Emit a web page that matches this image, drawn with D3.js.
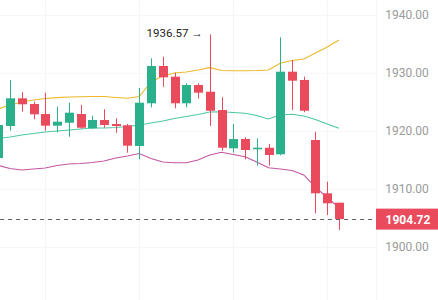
<!DOCTYPE html>
<html>
<head>
<meta charset="utf-8">
<script src="https://cdn.jsdelivr.net/npm/d3@7"></script>
<style>
  html, body { margin: 0; padding: 0; background: #fff; }
  svg { display: block; font-family: Roboto, "Noto Sans", sans-serif; }
</style>
</head>
<body>
<script>
// candle data (index = bar number)
const opens  = [1915.26, 1920.78, 1925.55, 1924.57, 1922.84, 1920.83, 1921.34, 1922.84, 1920.38, 1921.81,
                1921.12, 1920.90, 1917.33, 1924.69, 1931.12, 1929.28, 1924.69, 1927.84, 1926.69, 1923.53,
                1916.93, 1918.53, 1916.76, 1917.03, 1915.90, 1930.14, 1928.71, 1918.36, 1909.17, 1907.55];
const highs  = [1921.60, 1928.70, 1926.59, 1924.97, 1926.52, 1924.10, 1924.79, 1924.40, 1922.55, 1923.66,
                1922.10, 1921.12, 1927.33, 1932.45, 1932.72, 1929.97, 1928.14, 1928.14, 1936.57, 1925.72,
                1921.12, 1918.83, 1918.66, 1917.67, 1936.07, 1932.16, 1929.28, 1919.79, 1911.17, 1907.55];
const lows   = [1914.80, 1919.97, 1923.24, 1921.93, 1919.97, 1919.69, 1918.93, 1920.30, 1920.30, 1920.48,
                1919.60, 1916.17, 1915.03, 1924.00, 1927.55, 1923.83, 1924.00, 1925.55, 1920.78, 1916.52,
                1916.17, 1915.03, 1913.93, 1913.93, 1915.70, 1923.53, 1923.14, 1905.72, 1905.43, 1902.84];
const closes = [1920.95, 1925.55, 1924.52, 1922.79, 1920.83, 1921.52, 1923.07, 1920.48, 1921.81, 1920.95,
                1920.78, 1917.38, 1924.79, 1931.12, 1929.17, 1924.69, 1927.84, 1926.52, 1923.41, 1917.03,
                1918.53, 1916.64, 1917.03, 1915.78, 1930.14, 1928.59, 1923.41, 1909.17, 1907.45, 1904.72];

// bollinger bands
const upperBand = [1923.71, 1924.40, 1924.91, 1925.26, 1925.52, 1925.66, 1925.78, 1925.83, 1925.86, 1925.86,
                   1925.69, 1925.55, 1925.86, 1928.36, 1929.40, 1929.91, 1930.09, 1930.43, 1930.83, 1930.34,
                   1930.31, 1930.31, 1930.34, 1930.43, 1931.59, 1932.07, 1932.33, 1933.36, 1934.40, 1935.60];
const midBand   = [1918.62, 1918.88, 1919.22, 1919.48, 1919.74, 1919.91, 1920.09, 1920.26, 1920.43, 1920.43,
                   1920.52, 1920.69, 1920.95, 1921.29, 1921.64, 1922.07, 1922.41, 1922.76, 1923.19, 1923.24,
                   1923.10, 1922.97, 1922.59, 1921.98, 1922.67, 1922.79, 1922.50, 1921.90, 1921.12, 1920.38];
const lowerBand = [1913.97, 1913.45, 1913.19, 1913.36, 1913.53, 1913.97, 1914.22, 1914.31, 1914.48, 1914.74,
                   1915.26, 1915.60, 1916.03, 1915.17, 1914.57, 1914.45, 1914.45, 1914.91, 1915.78, 1916.24,
                   1915.86, 1915.48, 1914.57, 1913.59, 1913.36, 1913.10, 1912.33, 1910.22, 1908.41, 1906.72];

const yTicks = [1900, 1910, 1920, 1930, 1940];
const gridBars = [4, 12, 20, 28];
const lastPrice = 1904.72;
const maxNote = "1936.57 →";
const maxBar = 18;

const width = 438, height = 300;
const plotRight = 376;
const UP = "#2bb08c", DOWN = "#e94a5c";

const data = opens.map((o, i) => ({
    i: i, o: o, h: highs[i], l: lows[i], c: closes[i],
    up: upperBand[i], mid: midBand[i], low: lowerBand[i]
}));

const x = d3.scaleLinear().domain([0, data.length - 1]).range([-1.75, 339]);
const y = d3.scaleLinear().domain([1900, 1940]).range([246.5, 14.5]);
const bodyW = 9;

const svg = d3.select("body").append("svg")
    .attr("width", width)
    .attr("height", height);

// faint grid
svg.append("g").selectAll("line.v")
    .data(gridBars)
    .enter().append("line")
    .attr("x1", d => Math.round(x(d)) + 0.5).attr("x2", d => Math.round(x(d)) + 0.5)
    .attr("y1", 0).attr("y2", height)
    .attr("stroke", "#f5f5f5");
svg.append("line")
    .attr("x1", plotRight + 0.5).attr("x2", plotRight + 0.5)
    .attr("y1", 0).attr("y2", height)
    .attr("stroke", "#f5f5f5");
svg.append("g").selectAll("line.h")
    .data(yTicks)
    .enter().append("line")
    .attr("x1", 0).attr("x2", plotRight)
    .attr("y1", d => Math.round(y(d)) + 0.5).attr("y2", d => Math.round(y(d)) + 0.5)
    .attr("stroke", "#f7f7f7");

// bands
const band = key => d3.line().x(d => x(d.i)).y(d => y(d[key]));
[["up", "#ecb92a"], ["mid", "#4fc7a2"], ["low", "#c455a3"]].forEach(([k, col]) => {
    svg.append("path")
        .datum(data)
        .attr("fill", "none")
        .attr("stroke", col)
        .attr("stroke-width", 1.1)
        .attr("d", band(k));
});

// candles
const candle = svg.append("g").selectAll("g")
    .data(data)
    .enter().append("g");

candle.append("line")
    .attr("x1", d => Math.round(x(d.i)) + 0.5)
    .attr("x2", d => Math.round(x(d.i)) + 0.5)
    .attr("y1", d => y(d.h))
    .attr("y2", d => y(d.l))
    .attr("stroke", d => d.c >= d.o ? UP : DOWN)
    .attr("stroke-width", 1);

candle.append("rect")
    .attr("x", d => Math.round(x(d.i)) + 0.5 - bodyW / 2)
    .attr("width", bodyW)
    .attr("y", d => y(Math.max(d.o, d.c)))
    .attr("height", d => Math.max(1.5, Math.abs(y(d.o) - y(d.c))))
    .attr("fill", d => d.c >= d.o ? UP : DOWN);

// max price note
svg.append("text")
    .attr("x", x(maxBar) - 7)
    .attr("y", y(highs[maxBar]) + 3)
    .attr("text-anchor", "end")
    .attr("font-size", 11.5)
    .attr("fill", "#1e1e1e")
    .text(maxNote);

// last price line
svg.append("line")
    .attr("x1", 0).attr("x2", plotRight)
    .attr("y1", Math.round(y(lastPrice)) + 0.5).attr("y2", Math.round(y(lastPrice)) + 0.5)
    .attr("stroke", "#666")
    .attr("stroke-dasharray", "4,4");

// y axis labels
const yAxis = d3.axisRight(y)
    .tickValues(yTicks)
    .tickSize(0)
    .tickPadding(0)
    .tickFormat(d3.format(".2f"));

const ax = svg.append("g")
    .attr("transform", "translate(407,0)")
    .call(yAxis);
ax.select(".domain").remove();
ax.selectAll("text")
    .attr("text-anchor", "middle")
    .attr("font-size", 12)
    .attr("font-family", "Roboto, sans-serif")
    .attr("fill", "#9a9a9a");

// last price tag
svg.append("rect")
    .attr("x", plotRight)
    .attr("y", y(lastPrice) - 10.5)
    .attr("width", width - plotRight)
    .attr("height", 21)
    .attr("fill", DOWN);
svg.append("text")
    .attr("x", 408)
    .attr("y", y(lastPrice) + 4.5)
    .attr("text-anchor", "middle")
    .attr("font-size", 12)
    .attr("font-weight", "bold")
    .attr("fill", "#fff")
    .text(d3.format(".2f")(lastPrice));
</script>
</body>
</html>
